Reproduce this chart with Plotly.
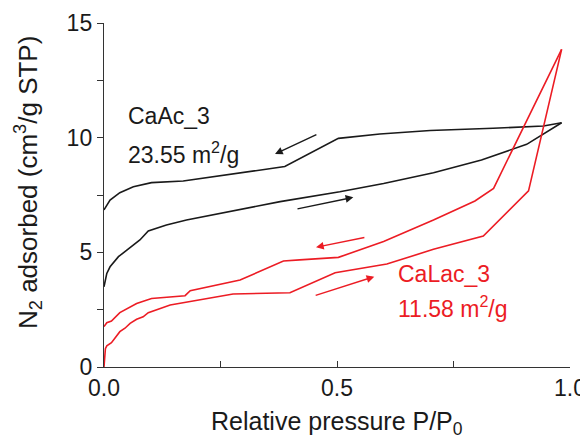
import plotly.graph_objects as go

# CaAc_3 adsorption branch
caac_ads_x = [0.0, 0.006, 0.013, 0.031, 0.049, 0.077, 0.095, 0.134, 0.177, 0.25, 0.30, 0.378, 0.506, 0.60, 0.707, 0.81, 0.907, 0.982]
caac_ads_y = [3.5, 4.08, 4.37, 4.81, 5.1, 5.54, 5.93, 6.19, 6.41, 6.7, 6.9, 7.21, 7.64, 8.0, 8.47, 9.03, 9.71, 10.65]
# CaAc_3 desorption branch
caac_des_x = [0.982, 0.943, 0.835, 0.70, 0.592, 0.503, 0.388, 0.30, 0.17, 0.102, 0.063, 0.034, 0.013, 0.002, 0.0]
caac_des_y = [10.65, 10.51, 10.41, 10.31, 10.16, 9.97, 8.74, 8.49, 8.11, 8.04, 7.86, 7.6, 7.28, 6.92, 6.85]
# CaLac_3 adsorption branch
calac_ads_x = [0.0, 0.003, 0.006, 0.016, 0.034, 0.045, 0.056, 0.07, 0.084, 0.095, 0.142, 0.277, 0.399, 0.496, 0.607, 0.707, 0.814, 0.911, 0.982]
calac_ads_y = [0.0, 0.8, 0.92, 1.06, 1.54, 1.69, 1.9, 2.08, 2.19, 2.37, 2.70, 3.18, 3.24, 4.11, 4.49, 5.13, 5.71, 7.68, 13.85]
# CaLac_3 desorption branch
calac_des_x = [0.982, 0.836, 0.796, 0.707, 0.60, 0.503, 0.42, 0.385, 0.292, 0.185, 0.174, 0.102, 0.07, 0.034, 0.016, 0.006, 0.0]
calac_des_y = [13.85, 7.79, 7.24, 6.41, 5.47, 4.78, 4.67, 4.62, 3.79, 3.33, 3.11, 2.99, 2.77, 2.37, 2.0, 1.93, 1.76]

x_ticks = [0.0, 0.5, 1.0]
x_tick_labels = ["0.0", "0.5", "1.0"]
y_ticks = [0, 5, 10, 15]
y_tick_labels = ["0", "5", "10", "15"]

BLACK = "#1a1a1a"
AXC = "#333333"
RED = "#ec1c24"
FONT = "Liberation Sans, Arial, Helvetica, sans-serif"
FS = 23

fig = go.Figure()
for xs, ys, c in [(caac_ads_x, caac_ads_y, BLACK), (caac_des_x, caac_des_y, BLACK),
                  (calac_ads_x, calac_ads_y, RED), (calac_des_x, calac_des_y, RED)]:
    fig.add_trace(go.Scatter(x=xs, y=ys, mode="lines", line=dict(color=c, width=1.6),
                             showlegend=False, hoverinfo="skip", cliponaxis=False))

annotations = []
# arrows (tail -> head)
for (tx, ty, hx, hy, c) in [(0.459, 10.16, 0.367, 9.29, BLACK),
                            (0.412, 6.88, 0.535, 7.40, BLACK),
                            (0.562, 5.66, 0.455, 5.22, RED),
                            (0.451, 3.10, 0.580, 3.94, RED)]:
    annotations.append(dict(x=hx, y=hy, ax=tx, ay=ty, xref="x", yref="y", axref="x", ayref="y",
                            text="", showarrow=True, arrowhead=2, arrowsize=1.1, arrowwidth=1.4,
                            arrowcolor=c))

# page-pixel -> plot-area fraction (plot area spans x 104..570, y 23..367 in the page)
W0, W1, H0, H1 = 104, 570, 367, 23
def px(x): return (x - W0) / (W1 - W0)
def py(y): return (H0 - y) / (H0 - H1)

def label(x, y, text, color, size=FS, **kw):
    d = dict(x=px(x), y=py(y), xref="paper", yref="paper", text=text, showarrow=False,
             xanchor="left", yanchor="middle", font=dict(family=FONT, size=size, color=color))
    d.update(kw)
    return d

annotations.append(label(126, 116, "CaAc_3", BLACK))
annotations.append(label(126, 153, "23.55 m<sup>2</sup>/g", BLACK))
annotations.append(label(396, 274, "CaLac_3", RED))
annotations.append(label(396, 307, "11.58 m<sup>2</sup>/g", RED))
# axis titles
annotations.append(label(337, 423, "Relative pressure P/P<sub>0</sub>", BLACK, size=25, xanchor="center"))
annotations.append(label(28, 183, "N<sub>2</sub> adsorbed (cm<sup>3</sup>/g STP)", BLACK, size=26,
                         xanchor="center", textangle=-90))

# the page body has an 8px margin, so the figure is 8px smaller than the window
fig.update_layout(
    width=580, height=433,
    margin=dict(l=96, r=18, t=15, b=74),
    paper_bgcolor="white", plot_bgcolor="white",
    font=dict(family=FONT, size=FS, color=BLACK),
    annotations=annotations,
    xaxis=dict(range=[0, 1.0], tickvals=x_ticks, ticktext=x_tick_labels, automargin=False,
               showgrid=False, zeroline=False, showline=True, linecolor=AXC, linewidth=1.4,
               ticks="inside", ticklen=6, tickwidth=1.2, tickcolor=AXC,
               minor=dict(tickvals=[0.25, 0.75], ticks="inside", ticklen=6, tickwidth=1.2, tickcolor=AXC),
               tickfont=dict(size=FS)),
    yaxis=dict(range=[0, 15], tickvals=y_ticks, ticktext=y_tick_labels, automargin=False,
               showgrid=False, zeroline=False, showline=True, linecolor=AXC, linewidth=1.4,
               ticks="outside", ticklen=6, tickwidth=1.2, tickcolor=AXC,
               minor=dict(tickvals=[2.5, 7.5, 12.5], ticks="outside", ticklen=6, tickwidth=1.2, tickcolor=AXC),
               tickfont=dict(size=FS)),
)

fig.write_html("out.html")
